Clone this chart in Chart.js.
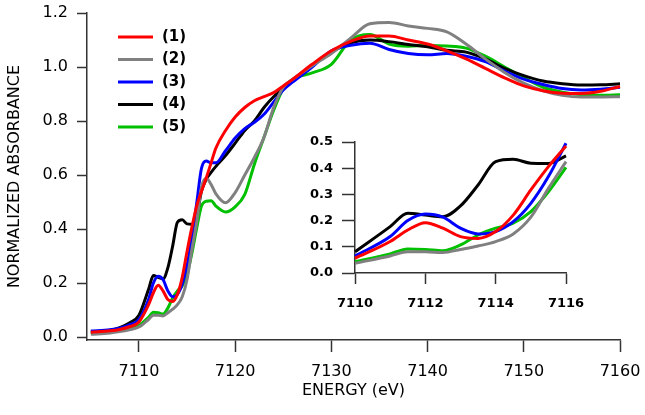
<!DOCTYPE html>
<html>
<head>
<meta charset="utf-8">
<script src="https://cdn.jsdelivr.net/npm/chart.js@4"></script>
<style>
  body { margin: 0; background: #fff; }
  #wrap { position: relative; width: 645px; height: 415px; }
  #main { position: absolute; left: 0; top: 0; }
  #inset { position: absolute; left: 290px; top: 128px; }
</style>
</head>
<body>
<div id="wrap">
  <canvas id="main" width="645" height="415"></canvas>
  <canvas id="inset" width="300" height="190"></canvas>
</div>
<script>
// energy grid (eV)
const energy = [7105, 7107, 7108, 7109, 7110, 7111, 7111.5, 7112, 7112.5, 7113, 7113.5, 7114, 7114.5, 7115, 7115.5,
  7116, 7116.5, 7117, 7117.5, 7118, 7119, 7120, 7121, 7122, 7123, 7124, 7125, 7126, 7128, 7130,
  7132, 7134, 7136, 7138, 7140, 7142, 7144, 7146, 7148, 7150, 7152, 7154, 7156, 7158, 7160];

const labels = ["(1)", "(2)", "(3)", "(4)", "(5)"];
const colors = ["#ff0000", "#808080", "#0000ff", "#000000", "#00c000"];

const s1 = [0.018, 0.023, 0.028, 0.038, 0.056, 0.12, 0.164, 0.192, 0.171, 0.139, 0.132, 0.158, 0.221, 0.317, 0.406,
  0.485, 0.54, 0.59, 0.645, 0.70, 0.765, 0.815, 0.85, 0.875, 0.89, 0.905, 0.93, 0.955, 1.01, 1.06,
  1.095, 1.115, 1.115, 1.10, 1.085, 1.06, 1.03, 0.995, 0.96, 0.93, 0.912, 0.903, 0.902, 0.91, 0.928];
const s2 = [0.010, 0.015, 0.02, 0.027, 0.037, 0.065, 0.081, 0.081, 0.078, 0.09, 0.103, 0.12, 0.149, 0.213, 0.323,
  0.425, 0.555, 0.588, 0.565, 0.53, 0.497, 0.535, 0.60, 0.665, 0.74, 0.85, 0.925, 0.955, 1.005, 1.05,
  1.107, 1.16, 1.165, 1.152, 1.143, 1.13, 1.085, 1.03, 0.98, 0.94, 0.912, 0.895, 0.889, 0.889, 0.89];
const s3 = [0.022, 0.027, 0.033, 0.045, 0.065, 0.139, 0.20, 0.225, 0.213, 0.171, 0.149, 0.158, 0.196, 0.266, 0.368,
  0.495, 0.625, 0.652, 0.645, 0.645, 0.69, 0.737, 0.772, 0.795, 0.825, 0.87, 0.915, 0.945, 1.0, 1.06,
  1.08, 1.088, 1.065, 1.05, 1.045, 1.05, 1.04, 1.02, 0.985, 0.955, 0.935, 0.92, 0.915, 0.918, 0.925];
const s4 = [0.018, 0.025, 0.035, 0.052, 0.081, 0.177, 0.228, 0.221, 0.215, 0.256, 0.336, 0.425, 0.434, 0.419, 0.418,
  0.447, 0.54, 0.585, 0.61, 0.632, 0.672, 0.718, 0.765, 0.80, 0.85, 0.89, 0.92, 0.95, 1.005, 1.055,
  1.09, 1.10, 1.094, 1.083, 1.075, 1.062, 1.055, 1.03, 0.995, 0.968, 0.948, 0.938, 0.933, 0.934, 0.938];
const s5 = [0.014, 0.018, 0.023, 0.030, 0.043, 0.073, 0.092, 0.09, 0.085, 0.107, 0.145, 0.171, 0.19, 0.234, 0.31,
  0.403, 0.485, 0.503, 0.505, 0.485, 0.463, 0.482, 0.528, 0.64, 0.74, 0.84, 0.92, 0.955, 0.978, 1.01,
  1.10, 1.12, 1.085, 1.077, 1.08, 1.078, 1.07, 1.04, 1.0, 0.96, 0.925, 0.907, 0.897, 0.895, 0.897];

const series = [s1, s2, s3, s4, s5];

const xTicks = [7110, 7120, 7130, 7140, 7150, 7160];
const yTicks = [0.0, 0.2, 0.4, 0.6, 0.8, 1.0, 1.2];
const insetXTicks = [7110, 7112, 7114, 7116];
const insetYTicks = [0.0, 0.1, 0.2, 0.3, 0.4, 0.5];

const axisColor = "#333";
const font = "DejaVu Sans";

function makeDatasets(lo, hi) {
  return series.map((vals, i) => ({
    label: labels[i],
    data: energy.map((e, j) => ({ x: e, y: vals[j] })).filter(p => p.x >= lo && p.x <= hi),
    borderColor: colors[i],
    borderWidth: 3,
    pointRadius: 0,
    cubicInterpolationMode: "monotone",
    clip: false
  }));
}

function fixedTicks(list) {
  return scale => { scale.ticks = list.map(v => ({ value: v })); };
}

// keep the plot box where we put it: no extra room for edge labels
function fixWidth(w) {
  return s => { s.width = w; s.paddingTop = 0; s.paddingBottom = 0; };
}
function fixHeight(h) {
  return s => { s.height = h; s.paddingLeft = 0; s.paddingRight = 0; };
}

// legend drawn inside the plot area, top left
const innerLegend = {
  id: "innerLegend",
  afterDatasetsDraw(chart) {
    const ctx = chart.ctx;
    ctx.save();
    ctx.font = "bold 15px " + font;
    ctx.textBaseline = "middle";
    ctx.fillStyle = "#000";
    labels.forEach((lab, i) => {
      const y = 37 + i * 22.5;
      ctx.strokeStyle = colors[i];
      ctx.lineWidth = 3;
      ctx.beginPath();
      ctx.moveTo(118, y);
      ctx.lineTo(153, y);
      ctx.stroke();
      ctx.fillText(lab, 162, y);
    });
    ctx.restore();
  }
};

new Chart(document.getElementById("main"), {
  type: "line",
  data: { datasets: makeDatasets(7100, 7170) },
  options: {
    responsive: false,
    devicePixelRatio: 1,
    animation: false,
    layout: { padding: { left: 0, right: 25, top: 13, bottom: 0 } },
    plugins: { legend: { display: false }, tooltip: { enabled: false } },
    scales: {
      x: {
        type: "linear",
        min: 7104.6,
        max: 7160,
        afterFit: fixHeight(75),
        afterBuildTicks: fixedTicks(xTicks),
        grid: { drawOnChartArea: false, tickLength: 12, tickColor: axisColor, tickWidth: 1.5 },
        border: { color: axisColor, width: 1.5 },
        ticks: { color: "#000", padding: 10, font: { family: font, size: 16 }, callback: v => String(v) },
        title: { display: true, text: "ENERGY (eV)", color: "#000", font: { family: font, size: 16 }, padding: { top: 0, bottom: 15 } }
      },
      y: {
        min: -0.011,
        max: 1.2,
        afterFit: fixWidth(87),
        afterBuildTicks: fixedTicks(yTicks),
        grid: { drawOnChartArea: false, tickLength: 10, tickColor: axisColor, tickWidth: 1.5 },
        border: { color: axisColor, width: 1.5 },
        ticks: { color: "#000", padding: 9, font: { family: font, size: 16 }, callback: v => v.toFixed(1) },
        title: { display: true, text: "NORMALIZED ABSORBANCE", color: "#000", font: { family: font, size: 16 }, padding: { top: 5, bottom: 0 } }
      }
    }
  },
  plugins: [innerLegend]
});

new Chart(document.getElementById("inset"), {
  type: "line",
  data: { datasets: makeDatasets(7110, 7116) },
  options: {
    responsive: false,
    devicePixelRatio: 1,
    animation: false,
    layout: { padding: { left: 0, right: 24, top: 14, bottom: 0 } },
    plugins: { legend: { display: false }, tooltip: { enabled: false } },
    scales: {
      x: {
        type: "linear",
        min: 7110,
        max: 7116,
        afterFit: fixHeight(45),
        afterBuildTicks: fixedTicks(insetXTicks),
        grid: { drawOnChartArea: false, tickLength: 11, tickColor: axisColor, tickWidth: 1.5 },
        border: { color: axisColor, width: 1.5 },
        ticks: { color: "#000", padding: 12, font: { family: font, size: 13, weight: "bold" }, callback: v => String(v) }
      },
      y: {
        min: 0,
        max: 0.5,
        afterFit: fixWidth(65),
        afterBuildTicks: fixedTicks(insetYTicks),
        grid: { drawOnChartArea: false, tickLength: 13, tickColor: axisColor, tickWidth: 1.5 },
        border: { color: axisColor, width: 1.5 },
        ticks: { color: "#000", padding: 9, font: { family: font, size: 13, weight: "bold" }, callback: v => v.toFixed(1) }
      }
    }
  }
});
</script>
</body>
</html>
